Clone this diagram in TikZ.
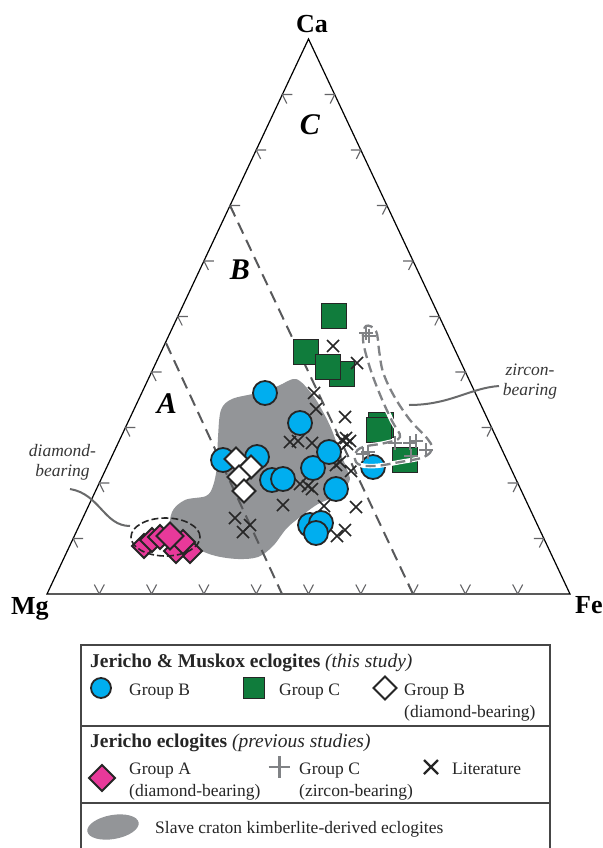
\documentclass[tikz,border=0pt]{standalone}
\usepackage{fontspec}
\setmainfont{Liberation Serif}
\definecolor{bblue}{RGB}{0,174,239}
\definecolor{ggreen}{RGB}{16,124,60}
\definecolor{ppink}{RGB}{232,57,154}
\definecolor{blobgray}{RGB}{147,149,152}
\definecolor{tickgray}{RGB}{100,100,103}
\definecolor{dashgray}{RGB}{88,89,91}
\definecolor{plusgray}{RGB}{128,130,133}
\definecolor{txtgray}{RGB}{55,55,55}
\definecolor{boxgray}{RGB}{70,70,70}
\newcommand\gsqm[2]{\draw[gsqs,shift={(#1,#2)}] (-12.5,-12.5) rectangle (12.5,12.5);}
\newcommand\bcim[2]{\draw[bcis] (#1,#2) circle[radius=12pt];}
\newcommand\wdim[2]{\draw[wdis,shift={(#1,#2)}] (0,-11.5) -- (11.5,0) -- (0,11.5) -- (-11.5,0) -- cycle;}
\newcommand\pdim[3]{\draw[pdis,shift={(#1,#2)}] (0,-#3) -- (#3,0) -- (0,#3) -- (-#3,0) -- cycle;}
\newcommand\xcrm[2]{\draw[xcrs,shift={(#1,#2)}] (-6,-6) -- (6,6) (-6,6) -- (6,-6);}
\newcommand\gplm[2]{\draw[gpls,shift={(#1,#2)}] (-7,0) -- (7,0) (0,-7) -- (0,7);}
\begin{document}
\begin{tikzpicture}[x=1pt,y=-1pt,
  gsqs/.style={draw=black!85,fill=ggreen,line width=1.8pt,line join=miter},
  bcis/.style={draw=black!85,fill=bblue,line width=1.8pt},
  wdis/.style={draw=black!85,fill=white,line width=1.8pt,line join=miter},
  pdis/.style={draw=black!85,fill=ppink,line width=1.8pt,line join=miter},
  xcrs/.style={draw=black!85,line width=1.7pt},
  gpls/.style={draw=plusgray,line width=2pt},
  tickm/.style={draw=tickgray,line width=1.1pt},
  field/.style={draw=dashgray,line width=2pt,dash pattern=on 12pt off 7pt},
  lead/.style={draw=dashgray!90,line width=2pt},
  cornerlab/.style={font=\fontsize{26}{26}\selectfont\bfseries,inner sep=0pt,anchor=base},
  reglab/.style={font=\fontsize{30}{30}\selectfont\bfseries\itshape,inner sep=0pt},
  note/.style={font=\fontsize{17.5}{20}\selectfont\itshape,text=txtgray,align=center,inner sep=0pt},
  legtxt/.style={font=\fontsize{17.5}{21}\selectfont,inner sep=0pt,anchor=base west,text=black!85},
  legtitle/.style={font=\fontsize{19.5}{21}\selectfont,inner sep=0pt,anchor=base west,text=black!85}
]
\useasboundingbox (0,0) rectangle (602,848);
\fill[white] (0,0) rectangle (602,848);

% Slave craton field
\fill[blobgray] plot[smooth cycle,tension=0.55] coordinates {
 (296,379) (312,394) (322,410) (331,428) (340,452) (348,472) (349,482)
 (335,496) (318,504) (304,514) (287,528) (273,546) (258,557) (238,559)
 (216,556) (198,549) (172,532) (172,512) (185,500) (206,496) (213,486)
 (217,466) (218,437) (221,410) (232,399) (257,393) (278,386)};

% triangle
\coordinate (Mg) at (47,594);
\coordinate (Fe) at (570,594);
\coordinate (Ca) at (308.5,39);
\draw[line width=1.2pt,line join=miter] (Mg) -- (Ca) -- (Fe) -- cycle;

% ticks
\foreach \k in {1,...,9}{
  \pgfmathsetmacro\bx{47+52.3*\k}
  \draw[tickm] (\bx-5,584.5) -- (\bx,594) -- (\bx+5,584.5);
  \pgfmathsetmacro\lx{47+26.15*\k}
  \pgfmathsetmacro\ly{594-55.5*\k}
  \draw[tickm] (\lx+10,\ly) -- (\lx,\ly) -- (\lx+4.5,\ly+9);
  \pgfmathsetmacro\rx{570-26.15*\k}
  \draw[tickm] (\rx-10,\ly) -- (\rx,\ly) -- (\rx-4.5,\ly+9);
}

% field boundaries
\coordinate (ab1) at (166,343);
\coordinate (ab2) at (282,594);
\coordinate (bc1) at (230,205.5);
\coordinate (bc2) at (413,594);
\draw[field] (ab1) -- (ab2);
\draw[field] (bc1) -- (bc2);

% region labels
\node[reglab] (labA) at (167,404) {A};
\node[reglab] (labB) at (240,270) {B};
\node[reglab] (labC) at (310,125) {C};

% corner labels
\node[cornerlab] (labCa) at (312,33) {Ca};
\node[cornerlab,anchor=base west] (labMg) at (11,614) {Mg};
\node[cornerlab,anchor=base west] (labFe) at (575,613) {Fe};

% green squares
\gsqm{334}{316}
\gsqm{306}{352}
\gsqm{342}{374}
\gsqm{328}{367}
\gsqm{381}{425}
\gsqm{379}{430}
\gsqm{405}{460}

% crosses
\foreach \p/\q in {333/346,357/363,314/393,316/409,345/417,290/442,298/441,312/443,
  342/440,346/438,350/441,347/444,340/462,336/465,351/471,300/484,308/486,312/489,
  283/505,356/507,324/506,235/518,250/525,243/532,337/536,345/530}{\xcrm{\p}{\q}}

% blue circles
\bcim{265}{393}
\bcim{300}{423}
\bcim{223}{460}
\bcim{257}{457}
\bcim{272}{480}
\bcim{283}{479}
\bcim{313}{468}
\bcim{329}{452}
\bcim{336}{489}
\bcim{373}{467}
\bcim{310}{525}
\bcim{321}{523}
\bcim{316}{533}

% white diamonds
\wdim{236}{459}
\wdim{251}{467}
\wdim{239}{477}
\wdim{244}{491}

% zircon-bearing field
\draw[draw=white,line width=4.5pt] plot[smooth cycle,tension=0.6] coordinates {
 (366,326) (376,331) (379,350) (383,372) (394,396) (410,420) (426,437) (432,448)
 (424,457) (400,462) (375,466) (358,464) (355,454) (363,447) (385,443) (400,437)
 (392,421) (381,397) (370,368) (363,340)};
\draw[draw=plusgray,line width=2.3pt,dash pattern=on 10pt off 5pt] plot[smooth cycle,tension=0.6] coordinates {
 (366,326) (376,331) (379,350) (383,372) (394,396) (410,420) (426,437) (432,448)
 (424,457) (400,462) (375,466) (358,464) (355,454) (363,447) (385,443) (400,437)
 (392,421) (381,397) (370,368) (363,340)};

% gray pluses
\foreach \p/\q in {366/333,369/336,363/454,368/452,395/443,410/443,416/441,411/456,426/450}{\gplm{\p}{\q}}

% diamond-bearing field
\pdim{190}{551}{12}
\pdim{176}{551}{12}
\pdim{183}{542}{12}
\pdim{144}{546}{12}
\pdim{152}{540}{12}
\pdim{160}{537}{12}
\pdim{170}{536}{13.5}
\draw[black!85,line width=1.6pt,dash pattern=on 7pt off 3pt] (165.5,537) ellipse[x radius=34.5pt,y radius=19pt];

% notes and leaders
\node[note] (ndia) at (62.5,462) {diamond-\\bearing};
\coordinate (ndiaend) at (130,526);
\draw[lead] (70,489) .. controls (100,494) and (104,526) .. (ndiaend);
\node[note] (nzir) at (530,382) {zircon-\\bearing};
\coordinate (nzirend) at (409,405);
\draw[lead] (nzirend) .. controls (450,405) and (470,388) .. (499,386);

% legend
\draw[boxgray,line width=1.4pt] (81,850) -- (81,645) -- (550,645) -- (550,850);
\draw[boxgray,line width=1.4pt] (81,726) -- (550,726);
\draw[boxgray,line width=1.4pt] (81,803) -- (550,803);

\node[legtitle] (t1) at (90,667) {\textbf{Jericho \& Muskox eclogites} \textit{(this study)}};
\draw[bcis] (101,688) circle[radius=10pt];
\node[legtxt] (l1) at (129,695) {Group B};
\draw[gsqs] (243.5,677.5) rectangle (264.5,698.5);
\node[legtxt] (l2) at (279,695) {Group C};
\draw[wdis] (385,676.5) -- (396.5,688) -- (385,699.5) -- (373.5,688) -- cycle;
\node[legtxt] (l3) at (404,695) {Group B};
\node[legtxt] (l3b) at (404,717) {(diamond-bearing)};

\node[legtitle] (t2) at (90,747) {\textbf{Jericho eclogites} \textit{(previous studies)}};
\draw[pdis] (102,765) -- (115,778) -- (102,791) -- (89,778) -- cycle;
\node[legtxt] (l4) at (129,774) {Group A};
\node[legtxt] (l4b) at (129,796) {(diamond-bearing)};
\draw[draw=plusgray,line width=2.8pt] (268.5,767) -- (290,767) (279.3,756) -- (279.3,778);
\node[legtxt] (l5) at (299,774) {Group C};
\node[legtxt] (l5b) at (299,796) {(zircon-bearing)};
\draw[black!85,line width=2.4pt] (424,760) -- (438,774) (424,774) -- (438,760);
\node[legtxt] (l6) at (452,774) {Literature};

\fill[blobgray,rotate around={10:(113,827)}] (113,827) ellipse[x radius=26pt,y radius=12pt];
\node[legtxt] (l7) at (155,833) {Slave craton kimberlite-derived eclogites};
\end{tikzpicture}
\end{document}
